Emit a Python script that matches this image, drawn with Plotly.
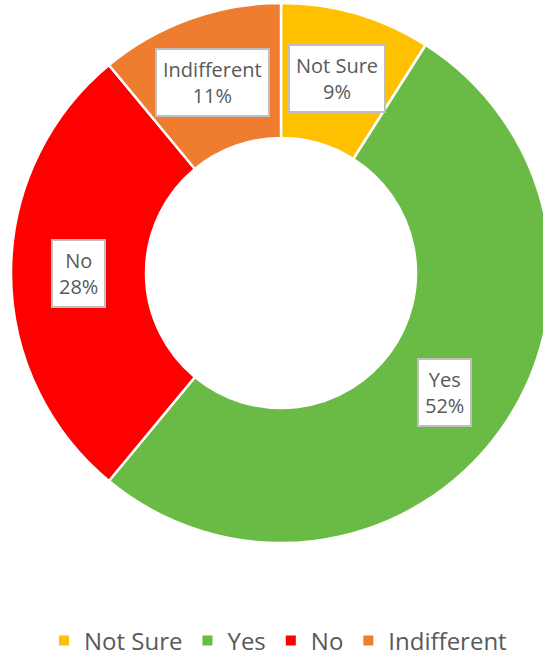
import math
import plotly.graph_objects as go

categories = ["Not Sure", "Yes", "No", "Indifferent"]
values = [9, 52, 28, 11]
colors = ["#FFC000", "#6ABB46", "#FF0000", "#EE7D2F"]

W, H = 551, 657
ML, MR, MT, MB = 11, 0, 3, 114
pw, ph = W - ML - MR, H - MT - MB
R = min(pw, ph) / 2
hole = 0.5

fig = go.Figure(go.Pie(
    labels=categories, values=values, sort=False, direction="clockwise",
    rotation=0, hole=hole,
    marker=dict(colors=colors, line=dict(color="white", width=2.5)),
    textinfo="none", hoverinfo="label+percent",
    domain=dict(x=[0, 1], y=[0, 1]),
))

total = sum(values)
cum = 0
rmid = R * (1 + hole) / 2
for cat, v in zip(categories, values):
    mid = (cum + v / 2) / total * 2 * math.pi
    cum += v
    dx = rmid * math.sin(mid)
    dy = rmid * math.cos(mid)
    fig.add_annotation(
        x=0.5 + dx / pw, y=0.5 + dy / ph, xref="paper", yref="paper",
        xanchor="center", yanchor="middle",
        text=f"{cat}<br>{round(v / total * 100)}%", showarrow=False,
        font=dict(family="Open Sans", size=20, color="#595959"),
        bgcolor="white", bordercolor="#BFBFBF", borderwidth=2, borderpad=6,
        align="center",
    )

fig.update_layout(
    width=W, height=H, margin=dict(l=ML, r=MR, t=MT, b=MB, autoexpand=False),
    paper_bgcolor="white", plot_bgcolor="white",
    showlegend=True,
    legend=dict(orientation="h", xref="container", yref="container",
                x=278 / W, xanchor="center",
                y=1 - 641 / H, yanchor="middle",
                font=dict(family="Open Sans", size=24, color="#595959"),
                itemsizing="constant", traceorder="normal"),
)
fig.write_html(
    "out.html",
    config={"displayModeBar": False},
    post_script=(
        "document.documentElement.style.margin='0';"
        "document.body.style.margin='0';"
        "document.body.style.width='543px';document.body.style.overflow='hidden';"
        "document.documentElement.style.overflow='hidden';"
        "var d=document.getElementById('{plot_id}');"
        "d.parentElement.style.width='543px';d.parentElement.style.height='657px';"
        "d.parentElement.style.overflow='hidden';"
    ),
)
